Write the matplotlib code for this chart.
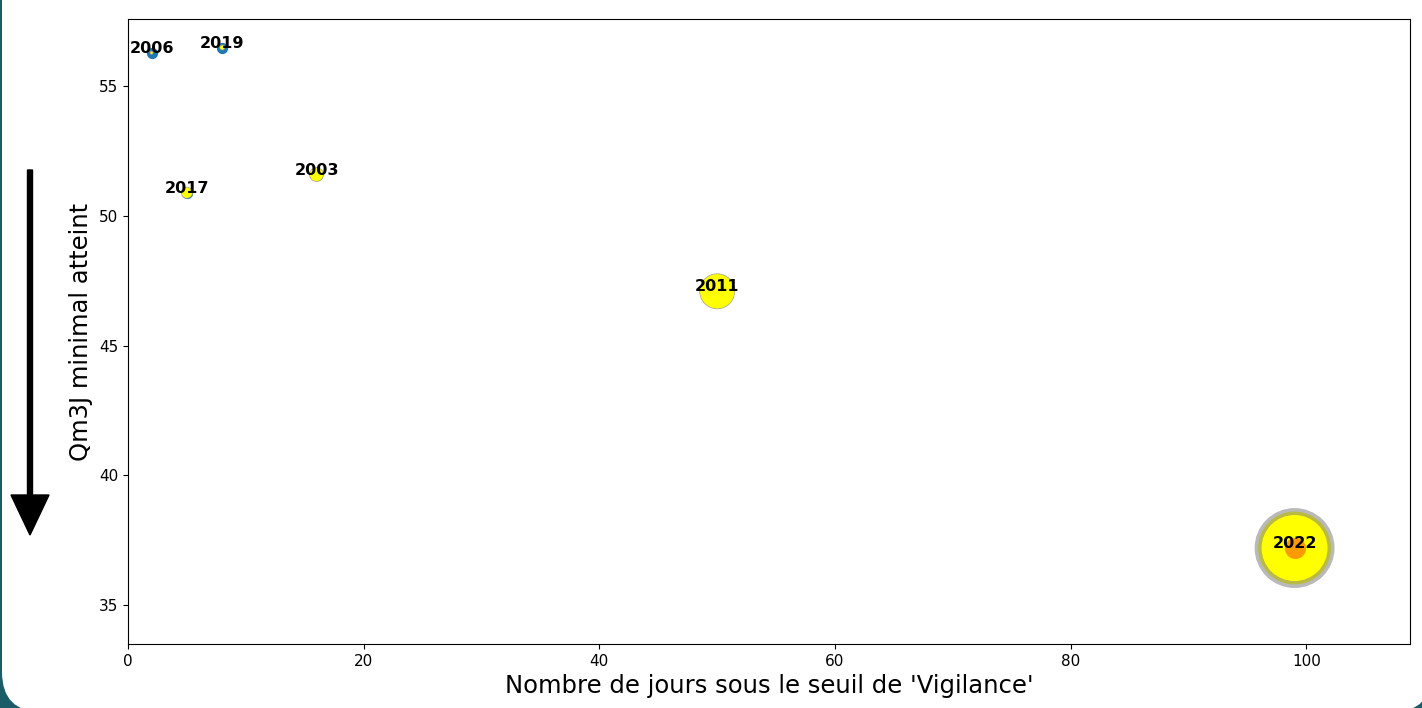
import matplotlib
matplotlib.use("Agg")
import matplotlib.pyplot as plt
from matplotlib.patches import FancyBboxPatch, FancyArrow
from matplotlib.transforms import IdentityTransform

# ---- data ----
years = ['2006', '2019', '2017', '2003', '2011', '2022']
days = [2, 8, 5, 16, 50, 99]
qm3j_min = [56.3, 56.5, 50.9, 51.6, 47.1, 37.2]
bubble_sizes = [5, 13, 63, 100, 635, 2760]
highlight_year = '2022'

DPI = 100
fig = plt.figure(figsize=(14.22, 7.08), dpi=DPI)
fig.patch.set_facecolor('#1b5c69')

# white rounded card
card = FancyBboxPatch((2, -4), 1430, 800,
                      boxstyle="round,pad=0,rounding_size=40",
                      transform=IdentityTransform(), facecolor='white',
                      edgecolor='none', zorder=-5)
fig.add_artist(card)

ax = fig.add_axes([0.090, 0.0904, 0.9016, 0.8828])

# base points
ax.scatter(days, qm3j_min, s=50, color='#1f77b4', zorder=2)
# bubbles
edge_cols = [(0.5, 0.5, 0.5, 0.55) if y == highlight_year else (0.6, 0.6, 0.6, 0.8) for y in years]
edge_lw = [5 if y == highlight_year else 0.6 for y in years]
ax.scatter(days, qm3j_min, s=bubble_sizes, color='yellow',
           edgecolors=edge_cols, linewidths=edge_lw, zorder=3)
# highlighted year
hi = years.index(highlight_year)
ax.scatter([days[hi]], [qm3j_min[hi]], s=200, color='#ff9a00', zorder=4)

for y, d, q in zip(years, days, qm3j_min):
    ax.text(d, q, y, ha='center', va='baseline', fontsize=11.5,
            fontweight='bold', zorder=5)

ax.set_xlim(0, 108.8)
ax.set_ylim(33.5, 57.6)
ax.set_xticks([0, 20, 40, 60, 80, 100])
ax.set_yticks([35, 40, 45, 50, 55])
ax.tick_params(labelsize=11)
ax.set_xlabel("Nombre de jours sous le seuil de 'Vigilance'", fontsize=17.5)
ax.set_ylabel("Qm3J minimal atteint", fontsize=17.5)

# downward arrow on the left (figure inches)
arrow = FancyArrow(0.30, (708 - 170) / DPI, 0, -(535 - 170) / DPI,
                   width=0.05, head_width=0.38, head_length=0.40,
                   length_includes_head=True, color='black',
                   transform=fig.dpi_scale_trans)
fig.add_artist(arrow)

fig.savefig('out.png', dpi=DPI, facecolor=fig.get_facecolor())
